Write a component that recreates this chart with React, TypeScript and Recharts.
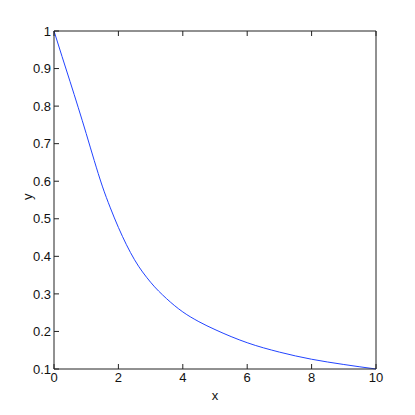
import { LineChart, Line, XAxis, YAxis } from "recharts";

const xValues = [0, 0.25, 0.5, 0.75, 1, 1.25, 1.5, 1.75, 2, 2.5, 3, 3.5, 4, 4.5, 5, 6, 7, 8, 9, 10];
const yValues = [1.0, 0.932, 0.865, 0.797, 0.727, 0.655, 0.587, 0.529, 0.477, 0.391, 0.331, 0.287, 0.252, 0.226, 0.205, 0.17, 0.145, 0.126, 0.112, 0.1];
const xTicks = [0, 2, 4, 6, 8, 10];
const yTicks = [0.1, 0.2, 0.3, 0.4, 0.5, 0.6, 0.7, 0.8, 0.9, 1];

const data = xValues.map((x, i) => ({ x, y: yValues[i] }));

const font = "'Liberation Sans Narrow', 'Liberation Sans', sans-serif";
const tickStyle = { fontSize: 13, fill: "#111", fontFamily: font };
const axisColor = "#222";

export default function App() {
  return (
    <LineChart width={400} height={400} data={data} margin={{ top: 22, right: 31, left: 10, bottom: 9 }}>
      <XAxis
        xAxisId="bottom"
        dataKey="x"
        type="number"
        domain={[0, 10]}
        ticks={xTicks}
        height={30}
        tickSize={-5}
        tickMargin={9}
        stroke={axisColor}
        tick={tickStyle}
        label={{ value: "x", position: "insideBottom", offset: -1, style: tickStyle }}
      />
      <XAxis
        xAxisId="top"
        orientation="top"
        dataKey="x"
        type="number"
        domain={[0, 10]}
        ticks={xTicks}
        height={1}
        tickSize={-5}
        tickFormatter={() => ""}
        stroke={axisColor}
      />
      <YAxis
        yAxisId="left"
        type="number"
        domain={[0.1, 1]}
        ticks={yTicks}
        width={36}
        tickSize={-5}
        tickMargin={8}
        stroke={axisColor}
        tick={tickStyle}
        label={{ value: "y", angle: -90, position: "insideLeft", offset: 9, style: tickStyle }}
      />
      <YAxis
        yAxisId="right"
        orientation="right"
        type="number"
        domain={[0.1, 1]}
        ticks={yTicks}
        width={1}
        tickSize={-5}
        tickFormatter={() => ""}
        stroke={axisColor}
      />
      <Line
        xAxisId="bottom"
        yAxisId="left"
        type="monotone"
        dataKey="y"
        stroke="#2244ff"
        strokeWidth={1}
        dot={false}
        isAnimationActive={false}
      />
    </LineChart>
  );
}
